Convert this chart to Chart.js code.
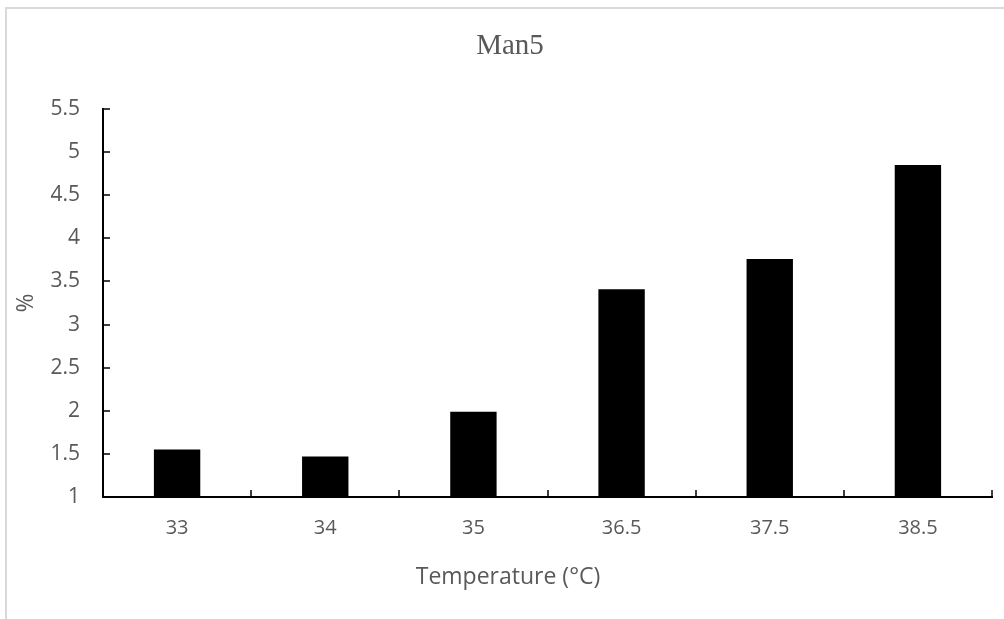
<!DOCTYPE html>
<html>
<head>
<meta charset="utf-8">
<script src="https://cdn.jsdelivr.net/npm/chart.js@4.4.1/dist/chart.umd.min.js"></script>
<style>
  html, body { margin: 0; padding: 0; background: #fff; }
  #wrap { position: relative; width: 1004px; height: 619px; overflow: hidden; }
  #frame { position: absolute; left: 5px; top: 7px; width: 1200px; height: 800px; border-left: 2px solid #d9d9d9; border-top: 2px solid #d9d9d9; }
  canvas { position: absolute; left: 0; top: 0; }
</style>
</head>
<body>
<div id="wrap">
  <div id="frame"></div>
  <canvas id="graphic" width="1004" height="619"></canvas>
</div>
<script>
const temps = ["33", "34", "35", "36.5", "37.5", "38.5"]
const percent = [1.55, 1.47, 1.99, 3.41, 3.76, 4.85]
const yMin = 1
const yMax = 5.5
const yStep = 0.5
const chartTitle = 'Man5'
const xTitle = 'Temperature (°C)'

const labelColor = '#595959'
const sansFont = "'Open Sans', 'Liberation Sans', sans-serif"

// Excel style tick marks pointing inside the plot, plus the chart and x titles
// (Excel centres those over the whole chart, not over the plot area)
const decorations = {
  id: 'decorations',
  afterDraw(chart) {
    const ctx = chart.ctx
    const y = chart.scales.y
    const area = chart.chartArea
    ctx.save()
    ctx.strokeStyle = '#000'
    ctx.lineWidth = 1.5
    ctx.beginPath()
    const step = (area.right - area.left) / temps.length
    for (let i = 1; i <= temps.length; i++) {
      const px = Math.round(area.left + step * i)
      ctx.moveTo(px, area.bottom)
      ctx.lineTo(px, area.bottom - 7)
    }
    y.ticks.forEach((t) => {
      const py = Math.round(y.getPixelForValue(t.value))
      ctx.moveTo(area.left, py)
      ctx.lineTo(area.left + 7, py)
    })
    ctx.stroke()

    ctx.fillStyle = labelColor
    ctx.textAlign = 'center'
    ctx.textBaseline = 'middle'
    ctx.font = "29px 'Liberation Serif', 'Times New Roman', serif"
    ctx.fillText(chartTitle, 510, 46)
    ctx.font = `23px ${sansFont}`
    ctx.fillText(xTitle, 508, 577)
    ctx.restore()
  }
}

new Chart(document.querySelector('#graphic').getContext('2d'), {
  type: 'bar',
  data: {
    labels: temps,
    datasets: [{
      data: percent,
      backgroundColor: '#000',
      borderWidth: 0,
      barPercentage: 0.313,
      categoryPercentage: 1
    }]
  },
  options: {
    responsive: false,
    animation: false,
    layout: { padding: { left: 0, right: 12, top: 109, bottom: 0 } },
    plugins: {
      legend: { display: false },
      tooltip: { enabled: false },
      title: { display: false }
    },
    scales: {
      x: {
        grid: { drawOnChartArea: false, drawTicks: false },
        border: { display: true, color: '#000', width: 2 },
        ticks: { color: labelColor, font: { family: sansFont, size: 20 }, padding: 19 },
        afterFit(scale) { scale.height = 122 }
      },
      y: {
        min: yMin,
        max: yMax,
        grid: { drawOnChartArea: false, drawTicks: false },
        border: { display: true, color: '#000', width: 2 },
        ticks: {
          stepSize: yStep,
          color: labelColor,
          font: { family: sansFont, size: 21 },
          padding: 23,
          callback: (v) => String(+v.toFixed(1))
        },
        title: {
          display: true,
          text: '%',
          color: labelColor,
          font: { family: sansFont, size: 23 },
          padding: { top: 13, bottom: 0 }
        },
        afterFit(scale) { scale.width = 103 }
      }
    }
  },
  plugins: [decorations]
})
</script>
</body>
</html>
